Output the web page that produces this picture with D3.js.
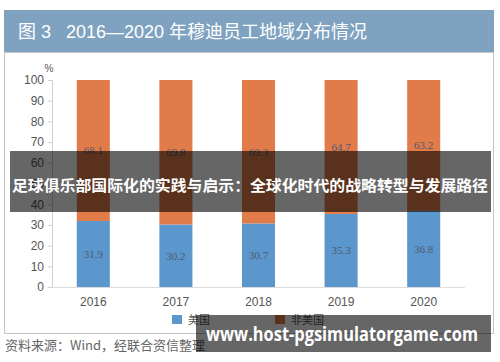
<!DOCTYPE html>
<html>
<head>
<meta charset="utf-8">
<title>2016—2020 年穆迪员工地域分布情况</title>
<script src="https://d3js.org/d3.v7.min.js"></script>
<style>
  body { margin: 0; background: #fff; }
  svg { display: block; }
  text { white-space: pre; }
</style>
</head>
<body>
<div id="vis"></div>
<script>
const width = 500;
const height = 362;

// data
const years = ["2016", "2017", "2018", "2019", "2020"];
const usValues = [31.9, 30.2, 30.7, 35.3, 36.8];
const nonUsValues = [68.1, 69.8, 69.3, 64.7, 63.2];
const seriesNames = ["美国", "非美国"];
const yTicks = [0, 10, 20, 30, 40, 50, 60, 70, 80, 90, 100];

const colors = ["#5b97cc", "#e27b4a"];
const sans = "'Liberation Sans', 'Noto Sans CJK SC', sans-serif";
const cjk = "'Noto Sans CJK SC', sans-serif";

const svg = d3.select("#vis").append("svg")
  .attr("width", width).attr("height", height);

// header band + frame
svg.append("rect").attr("x", 4.5).attr("y", 52.5).attr("width", 489).attr("height", 281)
  .attr("fill", "#fff").attr("stroke", "#c4c4c4");
svg.append("rect").attr("x", 4).attr("y", 10).attr("width", 490).attr("height", 42)
  .attr("fill", "#7ea2c0");
svg.append("text").attr("x", 18).attr("y", 38)
  .attr("font-family", sans).attr("font-size", 18).attr("fill", "#fff")
  .text("图 3   2016—2020 年穆迪员工地域分布情况");

const x = d3.scaleBand().domain(years).range([52, 465]).paddingInner(0.6).paddingOuter(0.3);
const y = d3.scaleLinear().domain([0, 100]).range([287, 80]);

const rows = years.map((yr, i) => ({ year: yr, us: usValues[i], non: nonUsValues[i] }));
const stacked = d3.stack().keys(["us", "non"])(rows);

// axes
const yAxis = svg.append("g").attr("transform", "translate(52,0)")
  .call(d3.axisLeft(y).tickValues(yTicks).tickSize(4).tickPadding(4));
yAxis.select(".domain").attr("stroke", "#cfcfcf");
yAxis.selectAll(".tick line").attr("stroke", "#cfcfcf");
yAxis.selectAll("text").attr("font-family", sans).attr("font-size", 12).attr("fill", "#555");

svg.append("text").attr("x", 49).attr("y", 72).attr("text-anchor", "middle")
  .attr("font-family", sans).attr("font-size", 10).attr("fill", "#555").text("%");

const xAxis = svg.append("g").attr("transform", "translate(0,287)")
  .call(d3.axisBottom(x).tickSize(0).tickPadding(10));
xAxis.select(".domain").attr("stroke", "#dcdcdc").attr("d", "M52,0.5H465");
xAxis.selectAll("text").attr("font-family", sans).attr("font-size", 12).attr("fill", "#555");

// bars
const layer = svg.append("g").selectAll("g").data(stacked).join("g")
  .attr("fill", (d, i) => colors[i]);
layer.selectAll("rect").data(d => d).join("rect")
  .attr("x", d => x(d.data.year))
  .attr("width", x.bandwidth())
  .attr("y", d => y(d[1]))
  .attr("height", d => y(d[0]) - y(d[1]));

layer.selectAll("text").data(d => d).join("text")
  .attr("x", d => x(d.data.year) + x.bandwidth() / 2)
  .attr("y", d => y((d[0] + d[1]) / 2) + 4)
  .attr("text-anchor", "middle")
  .attr("font-family", "'Liberation Serif', serif").attr("font-size", 11)
  .attr("fill", "#4d5a6e")
  .text(d => d3.format(".1f")(d[1] - d[0]));

// legend
const legend = svg.append("g").selectAll("g").data(seriesNames).join("g")
  .attr("transform", (d, i) => `translate(${172 + i * 103},315)`);
legend.append("rect").attr("width", 10).attr("height", 9).attr("fill", (d, i) => colors[i]);
legend.append("text").attr("x", 16).attr("y", 9)
  .attr("font-family", cjk).attr("font-size", 11).attr("fill", "#555").text(d => d);

// source
svg.append("text").attr("x", 5).attr("y", 350)
  .attr("font-family", cjk).attr("font-size", 13).attr("fill", "#666")
  .text("资料来源：Wind，经联合资信整理");

// overlay banners
svg.append("rect").attr("x", 10).attr("y", 151).attr("width", 481).attr("height", 61)
  .attr("fill", "rgba(0,0,0,0.6)");
svg.append("text").attr("x", 250).attr("y", 191).attr("text-anchor", "middle")
  .attr("font-family", cjk).attr("font-weight", "bold").attr("font-size", 15.3).attr("fill", "#fff")
  .attr("textLength", 476).attr("lengthAdjust", "spacingAndGlyphs")
  .text("足球俱乐部国际化的实践与启示：全球化时代的战略转型与发展路径");

svg.append("rect").attr("x", 196).attr("y", 315).attr("width", 295).attr("height", 37)
  .attr("fill", "rgba(0,0,0,0.6)");
svg.append("text").attr("x", 206).attr("y", 341)
  .attr("font-family", "'Open Sans', sans-serif").attr("font-weight", "bold").attr("font-size", 20).attr("fill", "#fff")
  .attr("textLength", 272).attr("lengthAdjust", "spacingAndGlyphs")
  .text("www.host-pgsimulatorgame.com");
</script>
</body>
</html>
